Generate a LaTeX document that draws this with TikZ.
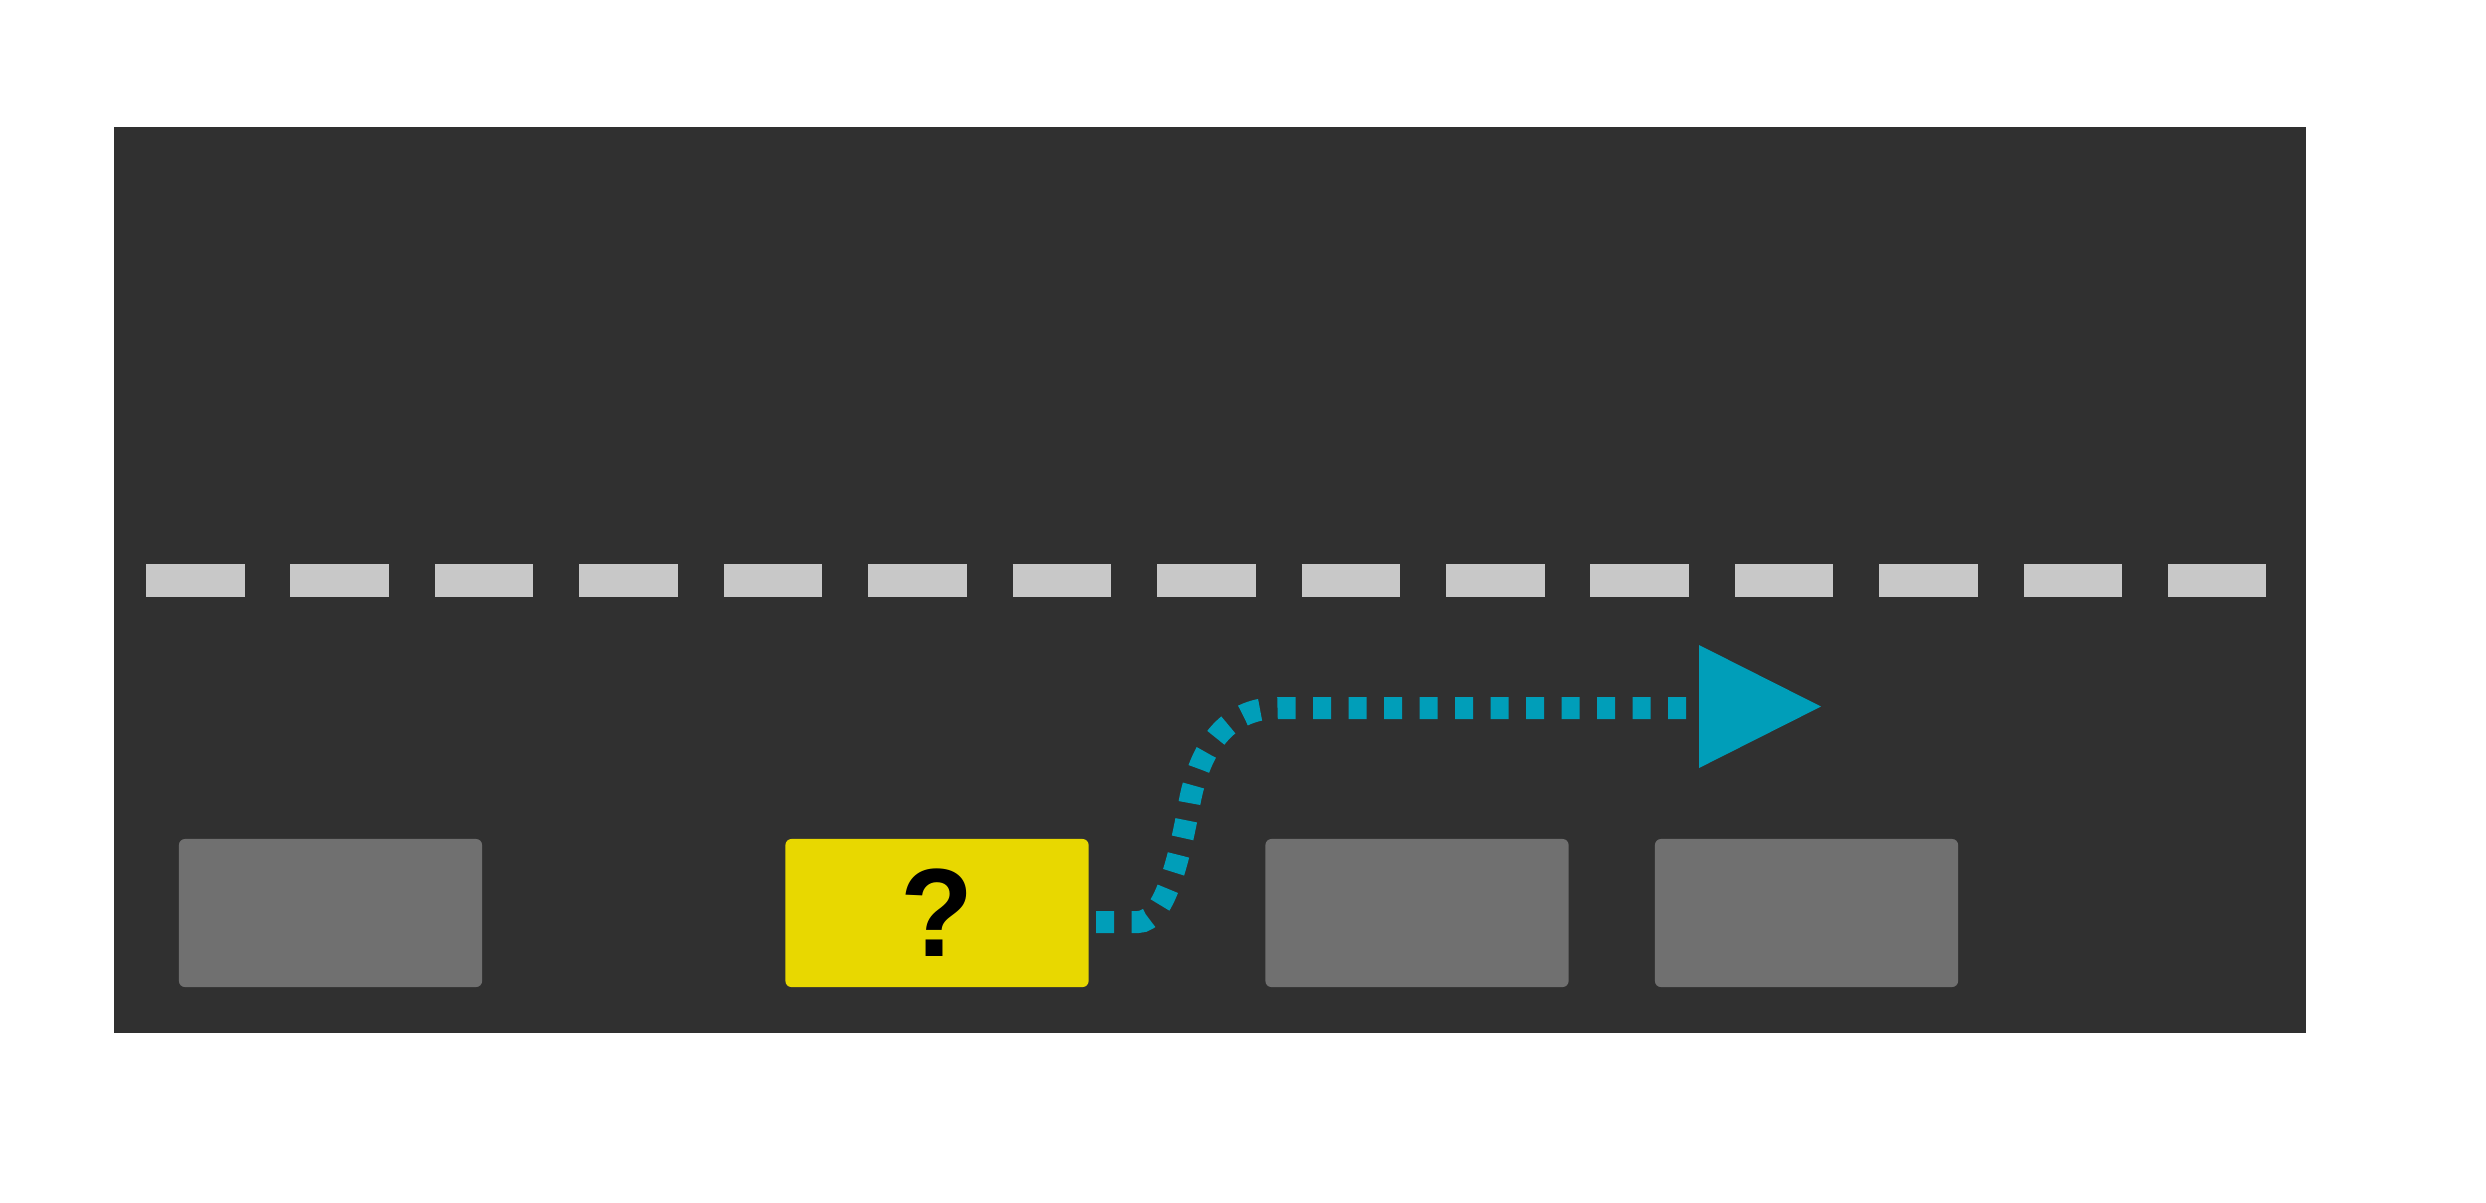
\documentclass[tikz,border=0pt]{standalone}
\usepackage{fontspec}
\setmainfont{Liberation Sans}
\definecolor{bg}{RGB}{48,48,48}
\definecolor{cargray}{RGB}{112,112,112}
\definecolor{caryellow}{RGB}{232,216,0}
\definecolor{routecyan}{RGB}{0,158,185}
\definecolor{lanegray}{RGB}{200,200,200}
\tikzset{
  carbox/.style={minimum width=3.03cm, minimum height=1.48cm, inner sep=0pt, rounded corners=0.06cm},
  laneline/.style={draw=lanegray, line width=0.33cm, dash pattern=on 0.985cm off 0.4586cm},
  route/.style={draw=routecyan, line width=0.22cm, dash pattern=on 0.18cm off 0.175cm},
}
\begin{document}
\begin{tikzpicture}[x=0.01cm,y=-0.01cm]
\useasboundingbox (0,0) rectangle (2486,1202);
\fill[bg] (114,127) rectangle (2306,1033);
\coordinate (l1) at (146,580.5);
\coordinate (l2) at (2266,580.5);
\draw[laneline] (l1) -- (l2);
\node[carbox, fill=cargray] (c1) at (330.5,913) {};
\node[carbox, fill=caryellow, font=\bfseries\fontsize{34}{34}\selectfont] (q) at (937,913) {\scalebox{1}[1.05]{?}};
\node[carbox, fill=cargray] (c2) at (1417,913) {};
\node[carbox, fill=cargray] (c3) at (1806.5,913) {};
\coordinate (s) at (1096,922);
\coordinate (e) at (1699,708);
\draw[route] (s) -- (1138,922) .. controls (1166,922) and (1181,850) .. (1190,800) .. controls (1200,750) and (1225,708) .. (1278,708) -- (e);
\fill[routecyan] (1699,645) -- (1821,706.5) -- (1699,768) -- cycle;
\end{tikzpicture}
\end{document}
